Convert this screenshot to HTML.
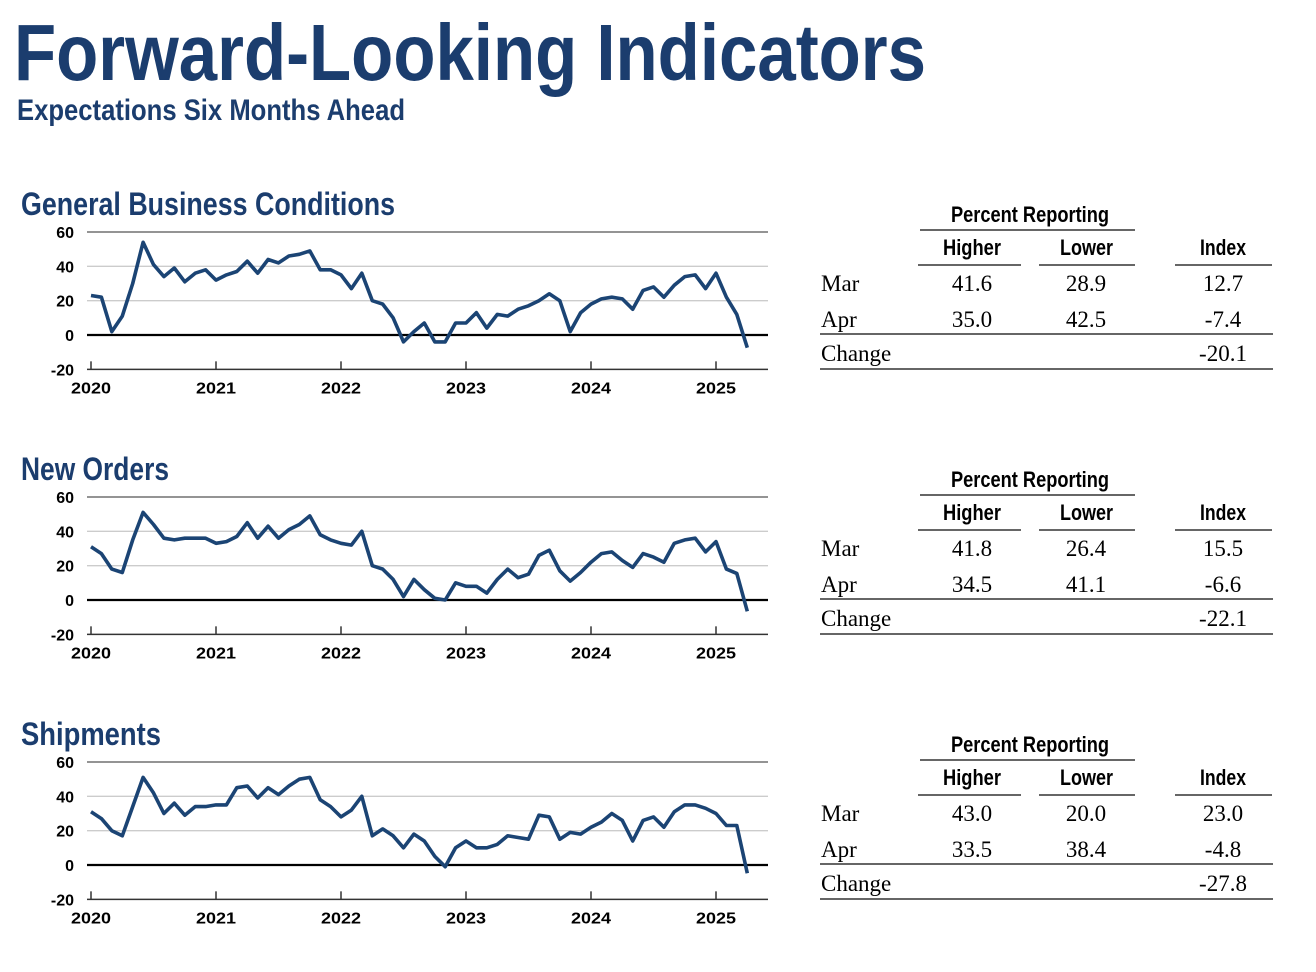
<!DOCTYPE html>
<html><head><meta charset="utf-8">
<style>
html,body{margin:0;padding:0;background:#fff;}
svg{display:block;}
.nar{font-family:"Liberation Sans Narrow","Liberation Sans",sans-serif;font-weight:bold;}
.ax{font-family:"Liberation Sans",sans-serif;font-weight:bold;font-size:16px;fill:#000;}
.sr{font-family:"Liberation Serif",serif;font-size:23px;fill:#000;}
</style></head>
<body>
<svg id="s" width="1316" height="972" xmlns="http://www.w3.org/2000/svg">
<text x="14" y="80" class="nar" font-size="80" fill="#1b3d6e" textLength="912" lengthAdjust="spacingAndGlyphs">Forward-Looking Indicators</text>
<text x="17" y="120" class="nar" font-size="30" fill="#1b3d6e" textLength="388" lengthAdjust="spacingAndGlyphs">Expectations Six Months Ahead</text>
</svg>
<script>
var s=document.getElementById('s');
var NS='http://www.w3.org/2000/svg';
function el(t,a,txt){var e=document.createElementNS(NS,t);for(var k in a)e.setAttribute(k,a[k]);if(txt!==undefined)e.textContent=txt;s.appendChild(e);return e;}
var data=[
{t:"General Business Conditions",tl:374,d:[23,22,2,11,30,54,41,34,39,31,36,38,32,35,37,43,36,44,42,46,47,49,38,38,35,27,36,20,18,10,-4,2,7,-4,-4,7,7,13,4,12,11,15,17,20,24,20,2,13,18,21,22,21,15,26,28,22,29,34,35,27,36,22,12,-7.4],
 tb:[["41.6","28.9","12.7"],["35.0","42.5","-7.4"],"-20.1"]},
{t:"New Orders",tl:148,d:[31,27,18,16,35,51,44,36,35,36,36,36,33,34,37,45,36,43,36,41,44,49,38,35,33,32,40,20,18,12,2,12,6,1,0,10,8,8,4,12,18,13,15,26,29,17,11,16,22,27,28,23,19,27,25,22,33,35,36,28,34,18,15.5,-6.6],
 tb:[["41.8","26.4","15.5"],["34.5","41.1","-6.6"],"-22.1"]},
{t:"Shipments",tl:140,d:[31,27,20,17,34,51,42,30,36,29,34,34,35,35,45,46,39,45,41,46,50,51,38,34,28,32,40,17,21,17,10,18,14,5,-1,10,14,10,10,12,17,16,15,29,28,15,19,18,22,25,30,26,14,26,28,22,31,35,35,33,30,23,23,-4.8],
 tb:[["43.0","20.0","23.0"],["33.5","38.4","-4.8"],"-27.8"]}];
data.forEach(function(c,i){
 var o=i*265;
 function Y(v){return 335+o-v*1.7167;}
 el('text',{x:21,y:215+o,'class':'nar','font-size':32,fill:'#1b3d6e',textLength:c.tl,lengthAdjust:'spacingAndGlyphs'},c.t);
 [60,40,20].forEach(function(v){el('line',{x1:87,x2:768,y1:Y(v),y2:Y(v),stroke:v==60?'#555':'#ccc','stroke-width':1.3});});
 [60,40,20,0,-20].forEach(function(v){el('text',{x:74,y:Y(v)+6,'class':'ax','text-anchor':'end'},String(v));});
 el('line',{x1:87,x2:768,y1:Y(-20),y2:Y(-20),stroke:'#333','stroke-width':1.5});
 for(var yr=0;yr<6;yr++){var x=91+yr*125;el('line',{x1:x,x2:x,y1:Y(-20),y2:Y(-20)-8,stroke:'#333','stroke-width':1.5});
  el('text',{x:x,y:Y(-20)+24,'class':'ax','text-anchor':'middle',textLength:40,lengthAdjust:'spacingAndGlyphs'},String(2020+yr));}
 el('line',{x1:87,x2:768,y1:Y(0),y2:Y(0),stroke:'#000','stroke-width':2.2});
 var p=c.d.map(function(v,k){return (91+k*125/12).toFixed(1)+','+Y(v).toFixed(1);}).join(' ');
 el('polyline',{points:p,fill:'none',stroke:'#1b4474','stroke-width':3.6,'stroke-linejoin':'round'});
 el('text',{x:1030,y:222+o,'class':'nar','font-size':22,'text-anchor':'middle',textLength:158,lengthAdjust:'spacingAndGlyphs'},'Percent Reporting');
 el('line',{x1:920,x2:1135,y1:230+o,y2:230+o,stroke:'#333','stroke-width':1.5});
 el('text',{x:943,y:255+o,'class':'nar','font-size':22,textLength:58,lengthAdjust:'spacingAndGlyphs'},'Higher');
 el('text',{x:1060,y:255+o,'class':'nar','font-size':22,textLength:53,lengthAdjust:'spacingAndGlyphs'},'Lower');
 el('text',{x:1200,y:255+o,'class':'nar','font-size':22,textLength:46,lengthAdjust:'spacingAndGlyphs'},'Index');
 [[918,1021],[1039,1135],[1175,1272]].forEach(function(a){el('line',{x1:a[0],x2:a[1],y1:265+o,y2:265+o,stroke:'#333','stroke-width':1.5});});
 ['Mar','Apr'].forEach(function(m,r){var yy=291+o+r*36;
  el('text',{x:821,y:yy,'class':'sr'},m);
  el('text',{x:972,y:yy,'class':'sr','text-anchor':'middle'},c.tb[r][0]);
  el('text',{x:1086,y:yy,'class':'sr','text-anchor':'middle'},c.tb[r][1]);
  el('text',{x:1223,y:yy,'class':'sr','text-anchor':'middle'},c.tb[r][2]);});
 el('line',{x1:820,x2:1273,y1:334+o,y2:334+o,stroke:'#333','stroke-width':1.5});
 el('text',{x:821,y:361+o,'class':'sr'},'Change');
 el('text',{x:1223,y:361+o,'class':'sr','text-anchor':'middle'},c.tb[2]);
 el('line',{x1:820,x2:1273,y1:369+o,y2:369+o,stroke:'#333','stroke-width':1.5});
});
</script>
</body></html>
